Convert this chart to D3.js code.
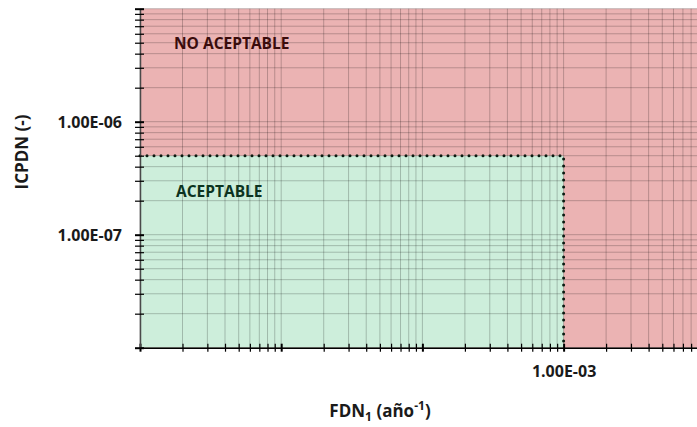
<!DOCTYPE html>
<html>
<head>
<meta charset="utf-8">
<script src="https://cdn.jsdelivr.net/npm/d3@7/dist/d3.min.js"></script>
<style>
  html, body { margin: 0; padding: 0; background: #fff; overflow: hidden; }
  svg { display: block; }
  text { font-family: "Open Sans", "Noto Sans", sans-serif; font-weight: 700; }
</style>
</head>
<body>
<svg id="chart" width="697" height="427"></svg>
<script>
// Axis extents (log scales)
const fdnDomain = [1e-6, 1e-2];     // FDN1 (año^-1)
const icpdnDomain = [1e-8, 1e-5];   // ICPDN (-)

// Acceptability limits
const fdnLimit = 1e-3;
const icpdnLimit = 5e-7;

// Labelled ticks
const xLabelTicks = [1e-3];
const yLabelTicks = [1e-6, 1e-7];

// Region labels
const regionLabels = ["NO ACEPTABLE", "ACEPTABLE"];

const svg = d3.select("#chart");
const plot = { left: 140, top: 8.7, bottom: 347.7, right: 704.8 };

const x = d3.scaleLog().domain(fdnDomain).range([plot.left, plot.right]);
const y = d3.scaleLog().domain(icpdnDomain).range([plot.bottom, plot.top]);

// Excel-style scientific label: 1.00E-06
function sci(d) {
  const s = d3.format(".2e")(d);          // "1.00e-6"
  const [m, e] = s.split("e");
  const n = +e;
  const sign = n < 0 ? "-" : "+";
  return m + "E" + sign + String(Math.abs(n)).padStart(2, "0");
}

// Regions: whole plot not acceptable, lower-left acceptable
svg.append("rect")
  .attr("x", x(fdnDomain[0])).attr("y", y(icpdnDomain[1]))
  .attr("width", x(fdnDomain[1]) - x(fdnDomain[0]))
  .attr("height", y(icpdnDomain[0]) - y(icpdnDomain[1]))
  .attr("fill", "#ebb3b3");

svg.append("rect")
  .attr("x", x(fdnDomain[0])).attr("y", y(icpdnLimit))
  .attr("width", x(fdnLimit) - x(fdnDomain[0]))
  .attr("height", y(icpdnDomain[0]) - y(icpdnLimit))
  .attr("fill", "#cdeedb");

// Grid (major + minor decades)
const xTicks = x.ticks();
const yTicks = y.ticks();
const grid = svg.append("g").attr("stroke", "#000").attr("stroke-opacity", 0.22).attr("stroke-width", 1);
grid.selectAll(".gx").data(xTicks).join("line")
  .attr("x1", d => x(d)).attr("x2", d => x(d))
  .attr("y1", plot.top).attr("y2", plot.bottom);
grid.selectAll(".gy").data(yTicks).join("line")
  .attr("x1", plot.left).attr("x2", plot.right)
  .attr("y1", d => y(d)).attr("y2", d => y(d));

// Limit boundary (dotted)
svg.append("path")
  .attr("d", d3.line()([
    [x(fdnDomain[0]), y(icpdnLimit)],
    [x(fdnLimit), y(icpdnLimit)],
    [x(fdnLimit), y(icpdnDomain[0])]
  ]))
  .attr("fill", "none")
  .attr("stroke", "#0a1a10")
  .attr("stroke-width", 3)
  .attr("stroke-linecap", "round")
  .attr("stroke-dasharray", "0 7");

// Axes with cross ticks
const isLabelled = (list, d) => list.some(v => Math.abs(v - d) / v < 1e-9);

const xAxis = d3.axisBottom(x).tickValues(xTicks).tickSizeInner(4).tickSizeOuter(0)
  .tickFormat(d => isLabelled(xLabelTicks, d) ? sci(d) : "");
const gx = svg.append("g").attr("transform", `translate(0,${plot.bottom})`).call(xAxis);
gx.select(".domain").attr("stroke", "#000").attr("stroke-width", 1.5);
gx.selectAll(".tick line").attr("y1", -4).attr("stroke", "#000").attr("stroke-width", 1.2);
gx.selectAll(".tick text").attr("y", 29).attr("dy", 0)
  .attr("font-size", 16).attr("fill", "#1a1a1a").attr("font-family", null);

const yAxis = d3.axisLeft(y).tickValues(yTicks).tickSizeInner(5).tickSizeOuter(0)
  .tickFormat(d => isLabelled(yLabelTicks, d) ? sci(d) : "");
const gy = svg.append("g").attr("transform", `translate(${plot.left},0)`).call(yAxis);
gy.select(".domain").attr("stroke", "#4a4a4a").attr("stroke-width", 1.5);
gy.selectAll(".tick line").attr("x1", 4).attr("stroke", "#000").attr("stroke-width", 1.2);
gy.selectAll(".tick text").attr("x", -18).attr("dy", "0.35em")
  .attr("font-size", 16).attr("fill", "#1a1a1a").attr("font-family", null);
svg.selectAll(".tick").filter(d => Math.abs(Math.log10(d) - Math.round(Math.log10(d))) < 1e-9)
  .select("line").attr("stroke-width", 2);

// Region labels
svg.append("text").attr("x", 174).attr("y", 49)
  .attr("font-size", 15.5).attr("fill", "#3a0c0c").text(regionLabels[0]);
svg.append("text").attr("x", 176).attr("y", 197)
  .attr("font-size", 15.5).attr("fill", "#0c3320").text(regionLabels[1]);

// Axis titles
svg.append("text")
  .attr("transform", "translate(28,152) rotate(-90)")
  .attr("text-anchor", "middle")
  .attr("font-size", 17).attr("fill", "#1a1a1a")
  .text("ICPDN (-)");

const xt = svg.append("text")
  .attr("x", 380).attr("y", 417)
  .attr("text-anchor", "middle")
  .attr("font-size", 17).attr("fill", "#1a1a1a");
xt.append("tspan").text("FDN");
xt.append("tspan").attr("font-size", 12).attr("dy", 4).text("1");
xt.append("tspan").attr("dy", -4).text(" (año");
xt.append("tspan").attr("font-size", 12).attr("dy", -7).text("-1");
xt.append("tspan").attr("dy", 7).text(")");
</script>
</body>
</html>
